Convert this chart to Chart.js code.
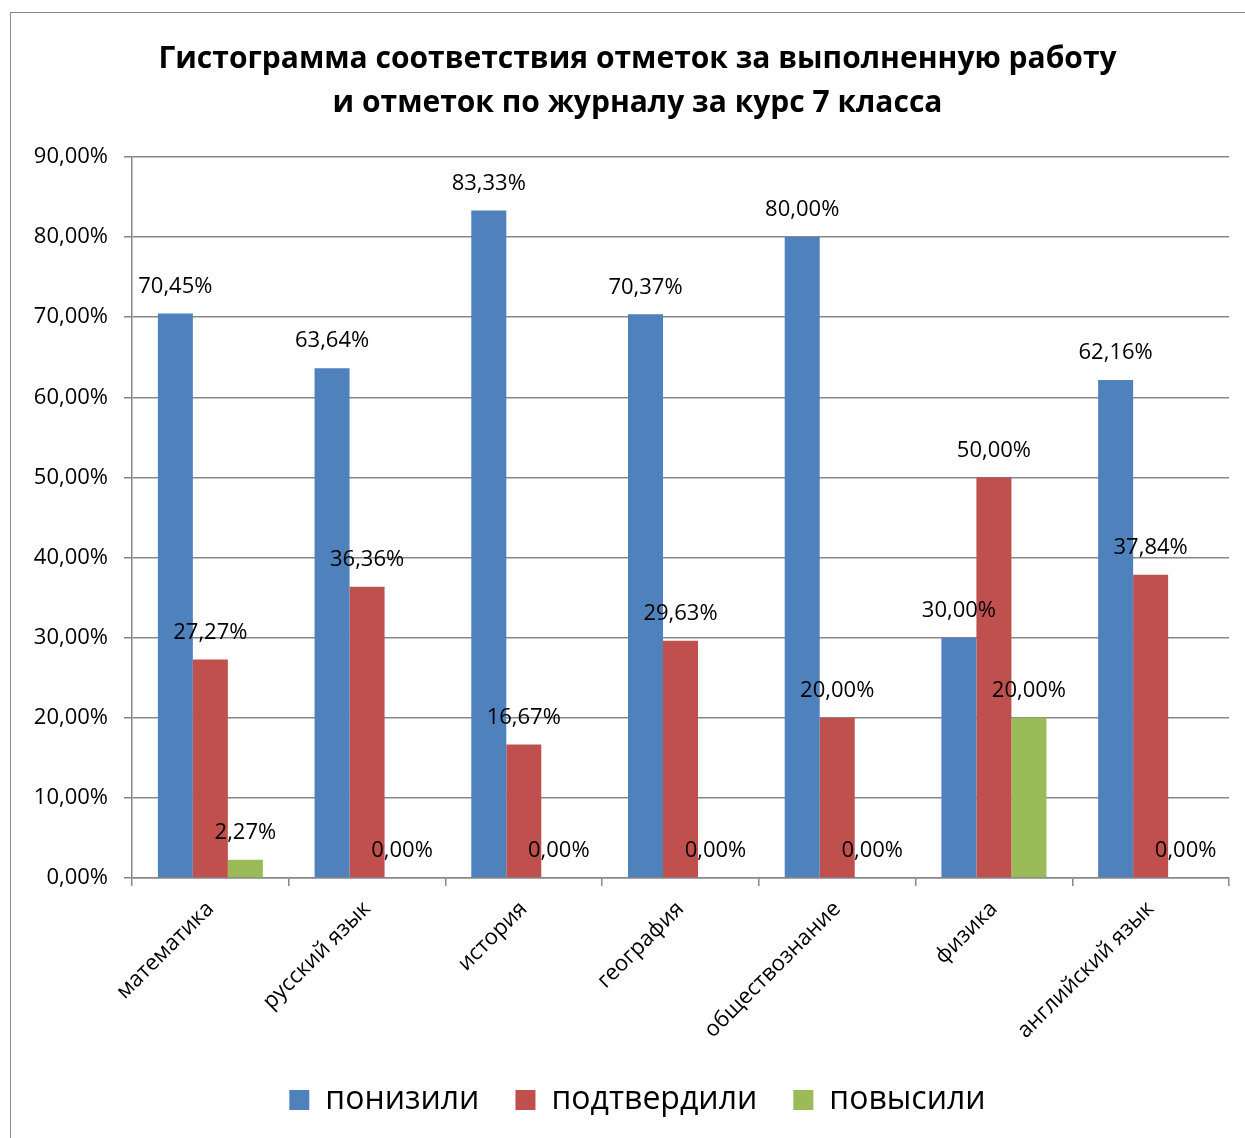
<!DOCTYPE html>
<html lang="ru">
<head>
  <meta charset="UTF-8">
  <title>Гистограмма соответствия отметок</title>
  <script src="https://cdn.jsdelivr.net/npm/chart.js"></script>
  <style>
    body {
      margin: 0;
      background: #fff;
      font-family: "Open Sans", Arial;
    }
    #frame {
      position: absolute;
      left: 10px;
      top: 12px;
      width: 1240px;
      height: 1130px;
      border-left: 1px solid #8c8c8c;
      border-top: 1px solid #8c8c8c;
    }
  </style>
</head>
<body>
  <div id="frame">
    <canvas id="marksChart" width="1234" height="1125"></canvas>
  </div>

  <script>
    const categories = ['математика', 'русский язык', 'история', 'география', 'обществознание', 'физика', 'английский язык'];
    const lowered = [70.45, 63.64, 83.33, 70.37, 80.00, 30.00, 62.16];
    const confirmed = [27.27, 36.36, 16.67, 29.63, 20.00, 50.00, 37.84];
    const raised = [2.27, 0, 0, 0, 0, 20.00, 0];
    const seriesNames = ['понизили', 'подтвердили', 'повысили'];
    const yMin = 0, yMax = 90, yStep = 10;

    const FONT = '"Open Sans", Arial, sans-serif';

    function pct(v) {
      return v.toFixed(2).replace('.', ',') + '%';
    }

    // value labels above each bar
    const valueLabels = {
      id: 'valueLabels',
      afterDatasetsDraw(chart) {
        const ctx = chart.ctx;
        ctx.save();
        ctx.font = '22px ' + FONT;
        ctx.fillStyle = '#000';
        ctx.textAlign = 'center';
        ctx.textBaseline = 'middle';
        chart.data.datasets.forEach((ds, i) => {
          chart.getDatasetMeta(i).data.forEach((bar, j) => {
            ctx.fillText(pct(ds.data[j]), bar.x, bar.y - 27);
          });
        });
        ctx.restore();
      }
    };

    const ctx = document.getElementById('marksChart').getContext('2d');
    const chart = new Chart(ctx, {
      type: 'bar',
      data: {
        labels: categories,
        datasets: [
          { label: seriesNames[0], data: lowered, backgroundColor: '#4F81BD' },
          { label: seriesNames[1], data: confirmed, backgroundColor: '#C0504D' },
          { label: seriesNames[2], data: raised, backgroundColor: '#9BBB59' }
        ]
      },
      options: {
        responsive: false,
        animation: false,
        layout: { padding: { left: 22, right: 3, top: 0, bottom: 12 } },
        datasets: {
          bar: { categoryPercentage: 0.67, barPercentage: 1.0 }
        },
        plugins: {
          title: {
            display: true,
            text: ['Гистограмма соответствия отметок за выполненную работу', 'и отметок по журналу за курс 7 класса'],
            color: '#000',
            font: { family: FONT, size: 30, weight: 'bold', lineHeight: 1.45 },
            padding: { top: 25, bottom: 32 }
          },
          legend: {
            position: 'bottom',
            labels: {
              color: '#000',
              font: { family: FONT, size: 32 },
              boxWidth: 20,
              boxHeight: 20,
              padding: 36
            }
          },
          tooltip: { enabled: false }
        },
        scales: {
          x: {
            offset: true,
            grid: {
              offset: true,
              drawOnChartArea: false,
              drawTicks: true,
              tickLength: 8,
              color: '#888',
              lineWidth: 1.5
            },
            border: { color: '#888', width: 1.5 },
            ticks: {
              color: '#000',
              font: { family: FONT, size: 22 },
              padding: 10,
              maxRotation: 45,
              minRotation: 45,
              autoSkip: false
            },
            afterFit(scale) { scale.height = 170; }
          },
          y: {
            min: yMin,
            max: yMax,
            grid: {
              color: '#888',
              lineWidth: 1.5,
              drawTicks: true,
              tickLength: 8
            },
            border: { color: '#888', width: 1.5 },
            ticks: {
              stepSize: yStep,
              color: '#000',
              font: { family: FONT, size: 22 },
              padding: 16,
              callback: v => pct(v)
            },
            afterFit(scale) { scale.width = 99; }
          },
          // empty right-hand spacer so the plot ends where the reference does
          spacer: {
            type: 'linear',
            position: 'right',
            grid: { display: false },
            border: { display: false },
            ticks: { display: false },
            afterFit(scale) { scale.width = 13; }
          }
        }
      },
      plugins: [valueLabels]
    });
  </script>
</body>
</html>
